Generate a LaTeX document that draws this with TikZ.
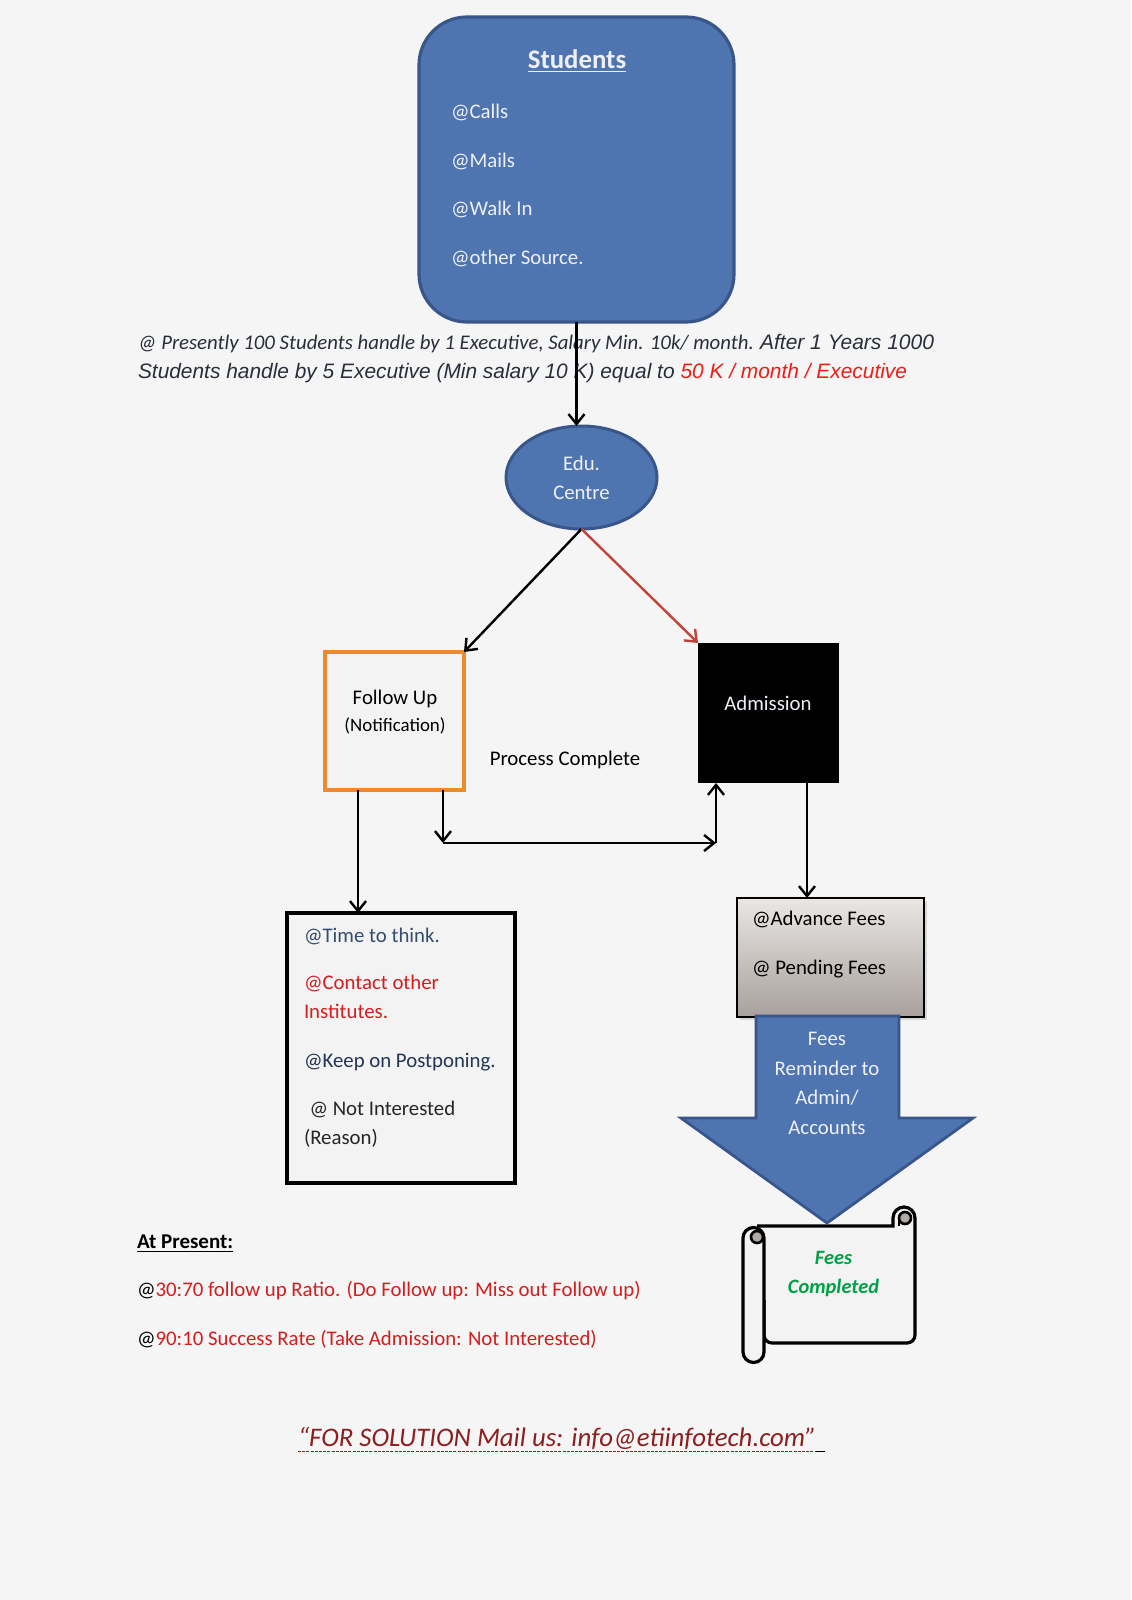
\documentclass[tikz,border=0pt]{standalone}
\usepackage{fontspec}
\setmainfont{Carlito}
\newfontfamily\arialf{Liberation Sans}
\usetikzlibrary{shapes.geometric,arrows.meta,calc,shadows}

\definecolor{bg}{RGB}{245,245,245}
\definecolor{oblue}{RGB}{79,117,176}
\definecolor{oblueb}{RGB}{56,86,138}
\definecolor{oorange}{RGB}{238,137,46}
\definecolor{ored}{RGB}{192,68,58}
\definecolor{txtred}{RGB}{210,30,30}
\definecolor{brightred}{RGB}{235,30,25}
\definecolor{darkred}{RGB}{140,30,30}
\definecolor{notec}{RGB}{40,46,58}
\definecolor{navy}{RGB}{35,52,85}
\definecolor{slate}{RGB}{52,76,110}
\definecolor{fgreen}{RGB}{0,160,70}
\definecolor{feestop}{RGB}{234,231,228}
\definecolor{feesbot}{RGB}{168,160,156}
\definecolor{lightbox}{RGB}{243,243,243}
\definecolor{wtxt}{RGB}{238,240,246}
\definecolor{curl}{RGB}{175,170,168}

\begin{document}
\begin{tikzpicture}[x=0.5pt,y=-0.5pt,
  every node/.style={inner sep=0pt, outer sep=0pt},
  arr/.style={-{Straight Barb[length=5pt,width=8pt,line width=1.2pt]}, line width=1.2pt, draw=black},
  body/.style={font=\fontsize{10.4}{12.5}\selectfont},
  lft/.style={body, anchor=base west},
  ctr/.style={body, anchor=base},
  bluebox/.style={draw=oblueb, fill=oblue, line width=1.6pt},
]
\fill[bg] (0,0) rectangle (1131,1600);
\useasboundingbox (0,0) rectangle (1131,1600);

% ---------- Students ----------
\node[bluebox, rounded corners=24pt, minimum width=157.5pt, minimum height=152.5pt] (students) at (576.5,169.5) {};
\node[anchor=base, text=wtxt, font=\fontsize{13.4}{16}\selectfont\bfseries] (stitle) at (577,68.3) {\underline{Students}};
\node[lft, text=wtxt] (calls) at (451,119) {@Calls};
\node[lft, text=wtxt] (mails) at (451,167) {@Mails};
\node[lft, text=wtxt] (walk) at (451,215) {@Walk In};
\node[lft, text=wtxt] (other) at (451,264) {@other Source.};

% ---------- note ----------
\node[anchor=base west, text=notec, font=\fontsize{10.4}{12}\selectfont\itshape] (note1) at (138,349)
  {@ Presently 100 Students handle by 1 Executive, Salary Min. 10k/ month. {\arialf\fontsize{10.5}{12}\selectfont After 1 Years 1000}};
\node[anchor=base west, text=notec, font=\arialf\itshape\fontsize{10.45}{12}\selectfont] (note2) at (138,378)
  {Students handle by 5 Executive (Min salary 10 K) equal to \textcolor{brightred}{50 K / month / Executive}};

% ---------- Edu. Centre ----------
\node[bluebox, ellipse, line width=1.5pt, minimum width=75.5pt, minimum height=51.5pt, align=center, text=wtxt,
      font=\fontsize{10.4}{14.5}\selectfont] (edu) at (581.5,477.5) {Edu.\\Centre};

% ---------- Follow up ----------
\node[draw=oorange, line width=2pt, fill=lightbox, minimum width=69.5pt, minimum height=69pt] (fu) at (394.5,721) {};
\node[ctr] (fut1) at (395,704) {Follow Up};
\node[anchor=base, font=\fontsize{9.45}{11}\selectfont] (fut2) at (395,731) {(Notification)};

\node[ctr] (proc) at (565,765) {Process Complete};

% ---------- Admission ----------
\node[fill=black, minimum width=70.5pt, minimum height=70pt] (adm) at (768.5,713) {};
\node[ctr, text=wtxt] (admt) at (768,710) {Admission};

% ---------- Time to think box ----------
\node[draw=black, line width=2pt, fill=lightbox, minimum width=114pt, minimum height=135pt] (think) at (401,1048) {};
\node[lft, text=slate] (t1) at (304,942) {@Time to think.};
\node[lft, text=txtred] (t2) at (304,989) {@Contact other};
\node[lft, text=txtred] (t3) at (304,1018) {Institutes.};
\node[lft, text=navy] (t4) at (304,1067) {@Keep on Postponing.};
\node[lft, text=black!85] (t5) at (309.5,1115) {@ Not Interested};
\node[lft, text=black!85] (t6) at (304,1144) {(Reason)};

% ---------- Fees box ----------
\node[draw=black, line width=1.3pt, top color=feestop, bottom color=feesbot, minimum width=93.5pt, minimum height=59.5pt,
      drop shadow={opacity=0.25, shadow xshift=1.5pt, shadow yshift=-1.5pt}] (fees) at (830.5,957.5) {};
\node[lft] (f1) at (752,925.7) {@Advance Fees};
\node[lft] (f2) at (752,974) {@ Pending Fees};

% ---------- Scroll ----------
\draw[line width=1.6pt, fill=lightbox, rounded corners=0pt]
  (757,1226) -- (893,1226) -- (893,1218) arc[start angle=180, end angle=360, radius=11]
  -- (915,1335) [rounded corners=4pt] -- (915,1343) -- (764,1343) [rounded corners=0pt] -- (764,1300);
\draw[line width=1.6pt, fill=lightbox]
  (743,1238) arc[start angle=180, end angle=360, radius=10.5] -- (764,1352)
  arc[start angle=0, end angle=180, radius=10.5] -- cycle;
\draw[line width=1.3pt, fill=curl] (757,1237) circle[radius=6];
\draw[line width=1.3pt, fill=curl] (905,1218) circle[radius=6];
\draw[line width=1.3pt] (899,1218) -- (899,1226);
\node[align=center, text=fgreen, font=\fontsize{10.2}{14.5}\selectfont\bfseries\itshape] (done) at (833.5,1273.5) {Fees\\Completed};

% ---------- big arrow ----------
\draw[bluebox, line width=1.4pt] (756,1016) -- (899,1016) -- (899,1118) -- (973,1118) -- (827,1223) -- (681,1118) -- (756,1118) -- cycle;
\node[align=center, text=wtxt, font=\fontsize{10.4}{14.85}\selectfont] (remind) at (827,1083.5) {Fees\\Reminder to\\Admin/\\Accounts};

% ---------- At present ----------
\node[anchor=base west, font=\fontsize{10.5}{12}\selectfont\bfseries] (atp) at (137,1248) {\underline{At Present:}};
\node[lft] (r1) at (137,1296.5) {@\textcolor{txtred}{30:70 follow up Ratio. (Do Follow up: Miss out Follow up)}};
\node[lft] (r2) at (137,1345) {@\textcolor{txtred}{90:10 Success Rate (Take Admission: Not Interested)}};

% ---------- footer ----------
\node[anchor=base west, text=darkred, font=\fontsize{13.4}{15}\selectfont\itshape] (footer) at (298,1446.5) {“FOR SOLUTION Mail us: info@etiinfotech.com”};
\draw[darkred, line width=0.7pt, dash pattern=on 1.5pt off 0.6pt] ($(footer.base west)+(0,5)$) -- ($(footer.base east)+(0,5)$);
\draw[black, line width=0.8pt] ($(footer.base east)+(0,5)$) -- ++(9,0);

% ---------- connectors ----------
\coordinate (xl) at (358,0);
\coordinate (xm) at (443,843);
\coordinate (xr) at (716,843);
\coordinate (xa) at (807,0);
\draw[arr] (students.south) -- (students.south |- edu.north);
\draw[arr] (edu.south) -- (fu.north east);
\draw[arr, draw=ored, -{Straight Barb[length=5pt,width=8pt,line width=1.2pt]}] (edu.south) -- (adm.north west);
\draw[arr] (fu.south -| xl) -- (think.north -| xl);
\draw[arr] (fu.south -| xm) -- (xm);
\draw[arr] (xm) -- (xr);
\draw[arr] (xr) -- (adm.south -| xr);
\draw[arr] (adm.south -| xa) -- (fees.north -| xa);
\end{tikzpicture}
\end{document}
